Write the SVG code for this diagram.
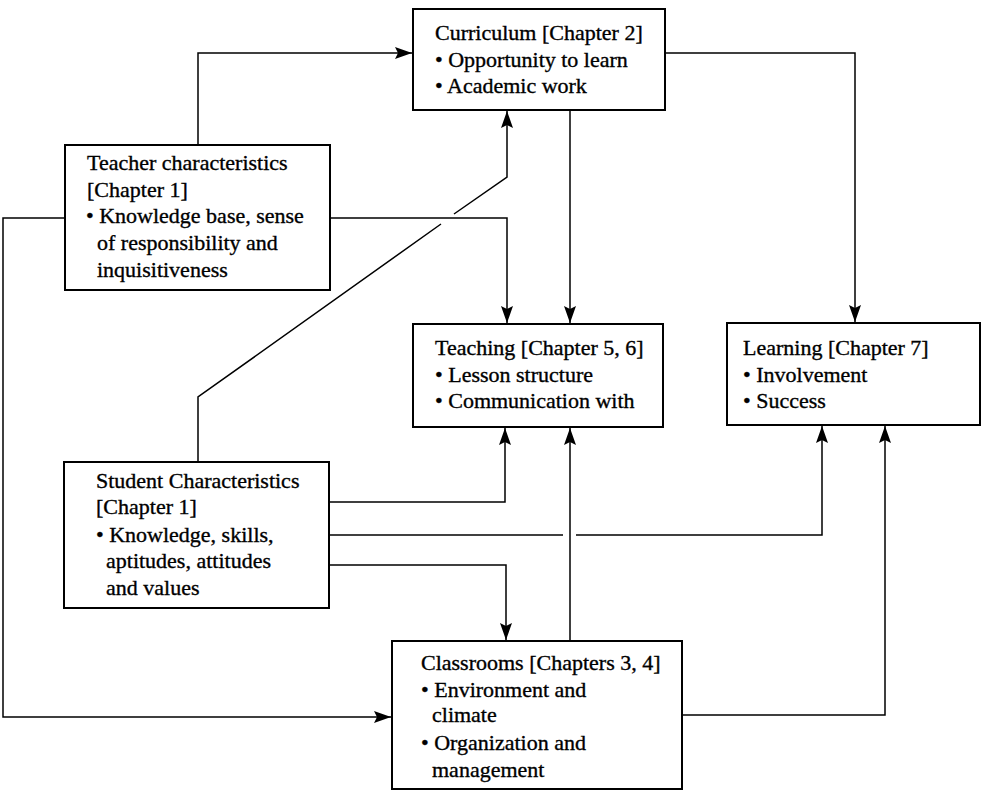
<svg xmlns="http://www.w3.org/2000/svg" width="987" height="791" viewBox="0 0 987 791">
<defs>
<marker id="ah" markerUnits="userSpaceOnUse" markerWidth="19" markerHeight="13" refX="17" refY="6" orient="auto">
<path d="M0,0 L17,6 L0,12 L3,6 z" fill="#000"/>
</marker>
<style>
.box{fill:#fff;stroke:#000;stroke-width:2}
.t{font-family:"Liberation Serif","Times New Roman",serif;font-size:22px;fill:#000;stroke:#000;stroke-width:0.35}
.c{fill:none;stroke:#000;stroke-width:1.5}
.a{marker-end:url(#ah)}
</style>
</defs>
<rect width="987" height="791" fill="#fff"/>
<g id="connectors">
<polyline class="c a" points="198,145 198,53 412,53"/>
<polyline class="c a" points="665,53 855,53 855,322"/>
<polyline class="c a" points="570,110 570,323"/>
<polyline class="c a" points="330,218 507,218 507,323"/>
<polyline class="c a" points="65,218 3,218 3,717 391,717"/>
<polyline class="c" points="198,462 198,397 441,224"/>
<polyline class="c a" points="454,214 507,177 507,111"/>
<polyline class="c a" points="329,502 505,502 505,428"/>
<polyline class="c" points="329,535 563,535"/>
<polyline class="c a" points="576,535 822,535 822,426"/>
<polyline class="c a" points="329,565 506,565 506,640"/>
<polyline class="c a" points="570,641 570,428"/>
<polyline class="c a" points="682,715 885,715 885,426"/>
</g>
<g id="curriculum">
<rect class="box" x="413" y="9" width="252" height="101"/>
<text class="t" x="435" y="40">Curriculum [Chapter 2]</text>
<text class="t" x="435" y="67">• Opportunity to learn</text>
<text class="t" x="435" y="93">• Academic work</text>
</g>
<g id="teacher">
<rect class="box" x="65" y="145" width="265" height="145"/>
<text class="t" x="87" y="170">Teacher characteristics</text>
<text class="t" x="87" y="197">[Chapter 1]</text>
<text class="t" x="86" y="223">• Knowledge base, sense</text>
<text class="t" x="97" y="250">of responsibility and</text>
<text class="t" x="97" y="277">inquisitiveness</text>
</g>
<g id="teaching">
<rect class="box" x="413" y="324" width="250" height="103"/>
<text class="t" x="435" y="355">Teaching [Chapter 5, 6]</text>
<text class="t" x="435" y="382">• Lesson structure</text>
<text class="t" x="435" y="408">• Communication with</text>
</g>
<g id="learning">
<rect class="box" x="727" y="323" width="253" height="102"/>
<text class="t" x="743" y="355">Learning [Chapter 7]</text>
<text class="t" x="743" y="382">• Involvement</text>
<text class="t" x="743" y="408">• Success</text>
</g>
<g id="student">
<rect class="box" x="64" y="462" width="265" height="146"/>
<text class="t" x="96" y="488">Student Characteristics</text>
<text class="t" x="96" y="514">[Chapter 1]</text>
<text class="t" x="96" y="542">• Knowledge, skills,</text>
<text class="t" x="106" y="568">aptitudes, attitudes</text>
<text class="t" x="106" y="595">and values</text>
</g>
<g id="classrooms">
<rect class="box" x="392" y="641" width="290" height="148"/>
<text class="t" x="421" y="670">Classrooms [Chapters 3, 4]</text>
<text class="t" x="421" y="697">• Environment and</text>
<text class="t" x="432" y="722">climate</text>
<text class="t" x="421" y="750">• Organization and</text>
<text class="t" x="432" y="777">management</text>
</g>
</svg>
